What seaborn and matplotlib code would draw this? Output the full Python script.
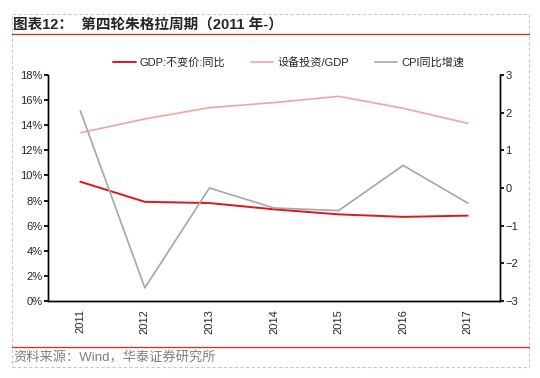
import numpy as np
import pandas as pd
import matplotlib
matplotlib.use("Agg")
import matplotlib.pyplot as plt
import seaborn as sns
from matplotlib.lines import Line2D
from matplotlib.patches import Rectangle

# Data
years = ["2011", "2012", "2013", "2014", "2015", "2016", "2017"]
gdp_yoy = [9.5, 7.9, 7.8, 7.3, 6.9, 6.7, 6.8]
equip_gdp = [13.4, 14.5, 15.4, 15.8, 16.3, 15.35, 14.15]
cpi_change = [2.05, -2.65, 0.0, -0.53, -0.6, 0.6, -0.4]

df = pd.DataFrame({"year": years, "pos": range(len(years)),
                   "gdp": gdp_yoy, "equip": equip_gdp, "cpi": cpi_change})

sns.set_theme(style="white")
plt.rcParams["font.family"] = ["Liberation Sans", "Noto Sans CJK SC"]

fig = plt.figure(figsize=(5.4, 3.78), dpi=100)
ax = fig.add_axes([48 / 540, 77 / 378, 452 / 540, 226 / 378])
ax2 = ax.twinx()

sns.lineplot(data=df, x="pos", y="gdp", ax=ax, color="#e3141b", linewidth=1.4, label="GDP:不变价:同比", legend=False)
sns.lineplot(data=df, x="pos", y="equip", ax=ax, color="#f4a3a5", linewidth=1.2, label="设备投资/GDP", legend=False)
sns.lineplot(data=df, x="pos", y="cpi", ax=ax2, color="#a6a6a6", linewidth=1.2, label="CPI同比增速", legend=False)

ax.set_xlim(-0.5, len(years) - 0.5)
ax.set_ylim(0, 18)
ax.set_yticks(np.arange(0, 19, 2))
ax.set_yticklabels([f"{v}%" for v in range(0, 19, 2)])
ax2.set_ylim(-3, 3)
ax2.set_yticks(range(-3, 4))

ax.set_xticks(np.arange(-0.5, len(years), 1))
ax.set_xticklabels([])
ax.set_xticks(range(len(years)), minor=True)
ax.set_xticklabels(years, minor=True, rotation=90)
ax.tick_params(axis="x", which="minor", length=0, pad=6, labelsize=8)
ax.tick_params(axis="x", which="major", length=3, direction="out", color="black")
ax.tick_params(axis="y", length=3, direction="out", color="black", labelsize=8, pad=1)
ax2.tick_params(axis="y", length=3, direction="out", color="black", labelsize=8, pad=1)
ax.set_xlabel("")
ax.set_ylabel("")
ax2.set_ylabel("")

for a in (ax, ax2):
    a.spines["top"].set_visible(False)
    for s in ("left", "right", "bottom"):
        a.spines[s].set_color("black")
        a.spines[s].set_linewidth(1.0)
ax.grid(False)
ax2.grid(False)

handles = ax.get_lines()[:2] + ax2.get_lines()[:1]
labels = ["GDP:不变价:同比", "设备投资/GDP", "CPI同比增速"]
fig.legend(handles, labels, loc="center", bbox_to_anchor=(289 / 540, 1 - 62 / 378), ncol=3,
           frameon=False, fontsize=8, handlelength=2.0, columnspacing=2.3, handletextpad=0.4)

# Title, footer, frame
fig.text(13 / 540, 1 - 25 / 378, "图表12：  第四轮朱格拉周期（2011 年-）", fontsize=10.5, fontweight="bold",
         va="center", ha="left", family=["Liberation Sans", "Noto Sans CJK SC"])
fig.add_artist(Line2D([12 / 540, 529 / 540], [1 - 34 / 378, 1 - 34 / 378], color="#b5452a", linewidth=1.0))
fig.add_artist(Line2D([12 / 540, 529 / 540], [1 - 347 / 378, 1 - 347 / 378], color="#b5452a", linewidth=1.0))
fig.text(13 / 540, 1 - 358 / 378, "资料来源：Wind，华泰证券研究所", fontsize=9.5, color="#7f7f7f",
         va="center", ha="left", family=["Liberation Sans", "Noto Sans CJK SC"])
fig.add_artist(Rectangle((12 / 540, 1 - 367 / 378), 517 / 540, 353 / 378, fill=False,
                         edgecolor="#c8c8c8", linestyle=(0, (3, 2)), linewidth=0.8,
                         transform=fig.transFigure))

fig.savefig("out.png", dpi=100)
